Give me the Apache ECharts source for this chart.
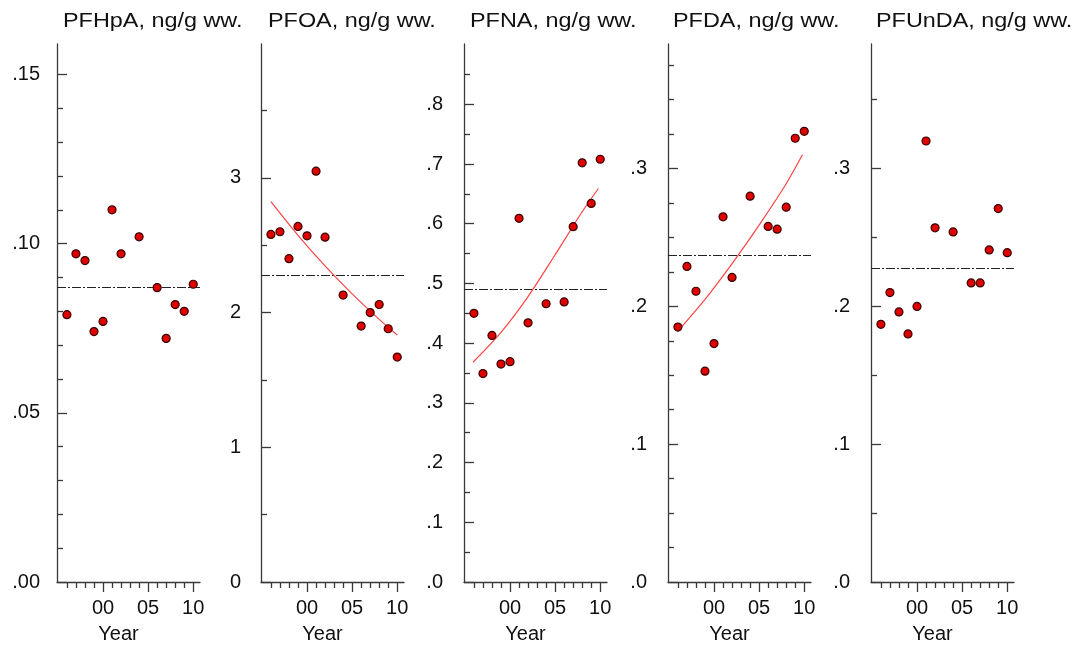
<!DOCTYPE html>
<html>
<head>
<meta charset="utf-8">
<script src="https://cdn.jsdelivr.net/npm/echarts@6/dist/echarts.min.js"></script>
<style>
html,body{margin:0;padding:0;background:#fff;}
#c{width:1072px;height:650px;}
</style>
</head>
<body>
<div id="c"></div>
<script>
// ---- data ----
const titles = ['PFHpA, ng/g ww.', 'PFOA, ng/g ww.', 'PFNA, ng/g ww.', 'PFDA, ng/g ww.', 'PFUnDA, ng/g ww.'];
const years = [1996, 1997, 1998, 1999, 2000, 2001, 2002, 2004, 2006, 2007, 2008, 2009, 2010];
const pfhpa  = [0.079, 0.097, 0.095, 0.074, 0.077, 0.110, 0.097, 0.102, 0.087, 0.072, 0.082, 0.080, 0.088];
const pfoa   = [2.58, 2.60, 2.40, 2.64, 2.57, 3.05, 2.56, 2.13, 1.90, 2.00, 2.06, 1.88, 1.67];
const pfna   = [0.450, 0.349, 0.413, 0.365, 0.369, 0.609, 0.434, 0.466, 0.469, 0.595, 0.702, 0.634, 0.708];
const pfda   = [0.185, 0.229, 0.211, 0.153, 0.173, 0.265, 0.221, 0.280, 0.258, 0.256, 0.272, 0.322, 0.327];
const pfunda = [0.187, 0.210, 0.196, 0.180, 0.200, 0.320, 0.257, 0.254, 0.217, 0.217, 0.241, 0.271, 0.239];
const means  = [0.0872, 2.28, 0.491, 0.2368, 0.2276];

// trend curves (null = no trend drawn)
const trendPFOA = [[1996, 2.824], [1999, 2.574], [2002, 2.347], [2005, 2.139], [2008, 1.950], [2010, 1.834]];
const trendPFNA = [[1995.9, 0.368], [1999, 0.418], [2002, 0.478], [2005, 0.548], [2008, 0.620], [2009.8, 0.659]];
const trendPFDA = [[1996, 0.182], [1999, 0.205], [2002, 0.231], [2005, 0.259], [2008, 0.289], [2009.8, 0.310]];

// axis ticks and labels
const xMajorTicks = [2000, 2005, 2010];
const xMajorLabels = ['00', '05', '10'];
const xMinorTicks = [1996, 1997, 1998, 1999, 2001, 2002, 2003, 2004, 2006, 2007, 2008, 2009];
const yMax = [0.159, 3.994, 0.901, 0.3904, 0.3904];
const yMajorTicks = [
  [0, 0.05, 0.10, 0.15],
  [0, 1, 2, 3],
  [0, 0.1, 0.2, 0.3, 0.4, 0.5, 0.6, 0.7, 0.8],
  [0, 0.1, 0.2, 0.3],
  [0, 0.1, 0.2, 0.3]
];
const yMajorLabels = [
  ['.00', '.05', '.10', '.15'],
  ['0', '1', '2', '3'],
  ['.0', '.1', '.2', '.3', '.4', '.5', '.6', '.7', '.8'],
  ['.0', '.1', '.2', '.3'],
  ['.0', '.1', '.2', '.3']
];
const yMinorTicks = [
  [0.01, 0.02, 0.03, 0.04, 0.06, 0.07, 0.08, 0.09, 0.11, 0.12, 0.13, 0.14],
  [0.5, 1.5, 2.5, 3.5],
  [0.05, 0.15, 0.25, 0.35, 0.45, 0.55, 0.65, 0.75, 0.85],
  [0.025, 0.05, 0.075, 0.125, 0.15, 0.175, 0.225, 0.25, 0.275, 0.325, 0.35, 0.375],
  [0.05, 0.15, 0.25, 0.35]
];

const seriesValues = [pfhpa, pfoa, pfna, pfda, pfunda];
const trends = [null, trendPFOA, trendPFNA, trendPFDA, null];

// ---- layout ----
const gridLefts = [57, 261, 464, 668, 871];
const titleLefts = [63, 268, 470, 673, 876];
const yLabelMargins = [17, 20, 21, 21, 21];
const FONT = 'Liberation Sans, Arial, Helvetica, sans-serif';
const TXT = '#111';
const AX = '#3a3a3a';

function labelFor(values, labels, v) {
  let best = 0, d = Infinity;
  values.forEach((t, i) => { const dd = Math.abs(t - v); if (dd < d) { d = dd; best = i; } });
  return labels[best];
}

const grid = [], xAxis = [], yAxis = [], series = [], graphic = [];

for (let i = 0; i < 5; i++) {
  grid.push({ left: gridLefts[i], top: 44, width: 143, height: 538, containLabel: false });

  // main x axis (line, major ticks, labels, name)
  xAxis.push({
    type: 'value', gridIndex: i, min: 1994.9, max: 2010.75, position: 'bottom',
    axisLine: { show: true, onZero: false, lineStyle: { color: AX, width: 1.3 } },
    axisTick: { show: true, inside: false, length: 10, customValues: xMajorTicks, lineStyle: { color: AX, width: 1.3 } },
    axisLabel: {
      show: true, customValues: xMajorTicks, margin: 16,
      color: TXT, fontSize: 20, fontFamily: FONT,
      formatter: v => labelFor(xMajorTicks, xMajorLabels, v)
    },
    splitLine: { show: false },
    name: 'Year', nameLocation: 'middle', nameGap: 42,
    nameTextStyle: { color: TXT, fontSize: 20, fontFamily: FONT, padding: [0, 20, 0, 0] }
  });
  // minor x ticks
  xAxis.push({
    type: 'value', gridIndex: i, min: 1994.9, max: 2010.75, position: 'bottom',
    axisLine: { show: false, onZero: false },
    axisTick: { show: true, inside: false, length: 6, customValues: xMinorTicks, lineStyle: { color: AX, width: 1.3 } },
    axisLabel: { show: false },
    splitLine: { show: false }
  });

  // main y axis
  yAxis.push({
    type: 'value', gridIndex: i, min: 0, max: yMax[i], position: 'left',
    axisLine: { show: true, onZero: false, lineStyle: { color: AX, width: 1.3 } },
    axisTick: { show: true, inside: true, length: 10, customValues: yMajorTicks[i], lineStyle: { color: AX, width: 1.3 } },
    axisLabel: {
      show: true, customValues: yMajorTicks[i], margin: yLabelMargins[i],
      color: TXT, fontSize: 20, fontFamily: FONT,
      formatter: v => labelFor(yMajorTicks[i], yMajorLabels[i], v)
    },
    splitLine: { show: false }
  });
  // minor y ticks
  yAxis.push({
    type: 'value', gridIndex: i, min: 0, max: yMax[i], position: 'left',
    axisLine: { show: false, onZero: false },
    axisTick: { show: true, inside: true, length: 6, customValues: yMinorTicks[i], lineStyle: { color: AX, width: 1.3 } },
    axisLabel: { show: false },
    splitLine: { show: false }
  });

  // data points with mean line
  series.push({
    type: 'scatter', xAxisIndex: 2 * i, yAxisIndex: 2 * i, z: 5,
    data: years.map((y, k) => [y, seriesValues[i][k]]),
    symbol: 'circle', symbolSize: 8,
    itemStyle: { color: '#e00000', borderColor: '#3a0000', borderWidth: 1.2, opacity: 1 },
    silent: true,
    markLine: {
      silent: true, symbol: ['none', 'none'], label: { show: false }, precision: 5,
      lineStyle: { color: '#222', width: 1, type: [9, 2, 2, 2] },
      emphasis: { disabled: true },
      data: [{ yAxis: means[i] }],
      z: 2
    }
  });

  if (trends[i]) {
    series.push({
      type: 'line', xAxisIndex: 2 * i, yAxisIndex: 2 * i, z: 3,
      data: trends[i], smooth: 0.3, showSymbol: false, symbol: 'none',
      lineStyle: { color: '#ff4444', width: 1.2 }, silent: true
    });
  }

  graphic.push({
    type: 'text', x: titleLefts[i], y: 21, scaleX: 1.17, scaleY: 1, originX: 0, originY: 0,
    style: { text: titles[i], fill: TXT, font: '20px ' + FONT, verticalAlign: 'middle', align: 'left' },
    silent: true
  });
}

const chart = echarts.init(document.getElementById('c'), null, { renderer: 'canvas' });
chart.setOption({
  backgroundColor: '#fff',
  animation: false,
  grid, xAxis, yAxis, series, graphic
});
</script>
</body>
</html>
